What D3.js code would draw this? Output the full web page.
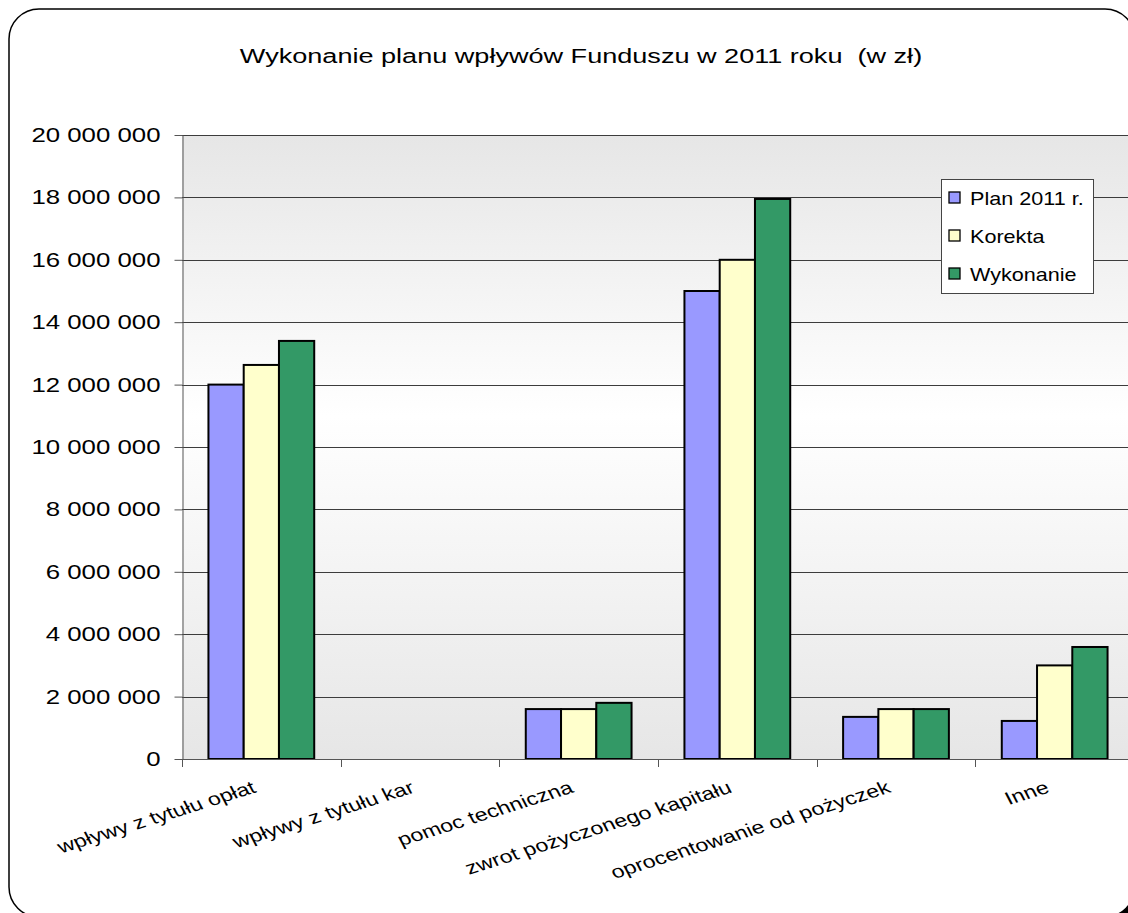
<!DOCTYPE html>
<html>
<head>
<meta charset="utf-8">
<script src="https://cdn.jsdelivr.net/npm/d3@7"></script>
<style>
  body { margin: 0; background: #fff; }
  svg { display: block; font-family: "Liberation Sans", Arial, sans-serif; }
</style>
</head>
<body>
<div id="chart"></div>
<script>
// data
const categories = ["wpływy z tytułu opłat", "wpływy z tytułu kar", "pomoc techniczna",
    "zwrot pożyczonego kapitału", "oprocentowanie od pożyczek", "Inne"];
const seriesNames = ["Plan 2011 r.", "Korekta", "Wykonanie"];
const plan = [12000000, 0, 1600000, 15000000, 1350000, 1220000];
const korekta = [12630000, 0, 1600000, 16000000, 1600000, 3000000];
const wykonanie = [13400000, 0, 1800000, 17950000, 1600000, 3590000];
const yTicks = [0, 2000000, 4000000, 6000000, 8000000, 10000000, 12000000, 14000000, 16000000, 18000000, 20000000];
const colors = ["#9999ff", "#ffffcc", "#339966"];

const W = 1128, H = 913;
const margin = {left: 182, top: 135, right: -6, bottom: 154};
const sx = 1.29; // the original picture is stretched sideways, text too

const svg = d3.select("#chart").append("svg")
    .attr("width", W)
    .attr("height", H);

const defs = svg.append("defs");
const grad = defs.append("linearGradient")
    .attr("id", "bg").attr("x1", 0).attr("y1", 0).attr("x2", 0).attr("y2", 1);
grad.append("stop").attr("offset", "0%").attr("stop-color", "#e6e6e6");
grad.append("stop").attr("offset", "45%").attr("stop-color", "#ffffff");
grad.append("stop").attr("offset", "100%").attr("stop-color", "#e6e6e6");

// frame with shadow
svg.append("rect")
    .attr("x", 17).attr("y", 17).attr("width", 1126).attr("height", 908)
    .attr("rx", 30).attr("fill", "#000");
svg.append("rect")
    .attr("x", 9).attr("y", 9).attr("width", 1126).attr("height", 908)
    .attr("rx", 30).attr("fill", "#fff").attr("stroke", "#000").attr("stroke-width", 1.5);

const x0 = margin.left, x1 = W - margin.right;
const yTop = margin.top, yBot = H - margin.bottom;

const x = d3.scaleBand().domain(categories).range([x0, x1]).paddingInner(0).paddingOuter(0);
const y = d3.scaleLinear().domain([0, 20000000]).range([yBot, yTop]);

// plot background
svg.append("rect")
    .attr("x", x0).attr("y", yTop).attr("width", x1 - x0).attr("height", yBot - yTop)
    .attr("fill", "url(#bg)");

// gridlines
svg.append("g").selectAll("line")
    .data(yTicks.filter(d => d > 0))
    .enter().append("line")
    .attr("x1", x0).attr("x2", x1)
    .attr("y1", d => Math.round(y(d)) + 0.5).attr("y2", d => Math.round(y(d)) + 0.5)
    .attr("stroke", "#3c3c3c").attr("stroke-width", 1);

// y axis
const fmt = d => d3.format(",")(d).replace(/,/g, "\u00a0");
const yAxis = svg.append("g")
    .attr("transform", `translate(${x0 + 0.5},0)`)
    .call(d3.axisLeft(y).tickValues(yTicks).tickFormat(fmt).tickSize(8).tickSizeOuter(0));
yAxis.select(".domain").attr("stroke", "#555");
yAxis.selectAll(".tick line").attr("stroke", "#555");
yAxis.selectAll("text")
    .attr("x", 0)
    .attr("transform", `translate(-22,0) scale(${sx},1)`)
    .attr("font-size", 20).attr("fill", "#000")
    .attr("font-family", "Liberation Sans, Arial, sans-serif");

// bars
const xs = d3.scaleBand().domain(seriesNames).range([0, x.bandwidth()]).paddingOuter(0.75).paddingInner(0);
const series = [plan, korekta, wykonanie];
series.forEach((vals, si) => {
    svg.append("g").selectAll("rect")
        .data(vals.map((v, i) => ({cat: categories[i], v})).filter(d => d.v > 0))
        .enter().append("rect")
        .attr("x", d => x(d.cat) + xs(seriesNames[si]))
        .attr("y", d => y(d.v))
        .attr("width", xs.bandwidth())
        .attr("height", d => y(0) - y(d.v))
        .attr("fill", colors[si])
        .attr("stroke", "#000")
        .attr("stroke-width", 2);
});

// x axis
const xg = svg.append("g");
xg.append("line")
    .attr("x1", x0).attr("x2", x1).attr("y1", yBot + 0.5).attr("y2", yBot + 0.5)
    .attr("stroke", "#555");
xg.selectAll(".tk")
    .data(categories.map(c => x(c)).concat([x1]))
    .enter().append("line")
    .attr("x1", d => Math.round(d) + 0.5).attr("x2", d => Math.round(d) + 0.5)
    .attr("y1", yBot).attr("y2", yBot + 8)
    .attr("stroke", "#555");

xg.selectAll("text")
    .data(categories)
    .enter().append("text")
    .attr("transform", d => `translate(${x(d) + x.bandwidth() / 2 - 4},${yBot + 33}) scale(${sx},1) rotate(-22)`)
    .attr("text-anchor", "end")
    .attr("font-size", 18)
    .attr("fill", "#000")
    .text(d => d);

// title
svg.append("text")
    .attr("transform", `translate(581,63) scale(${sx},1)`)
    .attr("text-anchor", "middle")
    .attr("font-size", 21)
    .attr("fill", "#000")
    .attr("xml:space", "preserve")
    .style("white-space", "pre")
    .text("Wykonanie planu wpływów Funduszu w 2011 roku  (w zł)");

// legend
const lg = svg.append("g").attr("transform", "translate(941,179)");
lg.append("rect")
    .attr("x", 0.5).attr("y", 0.5).attr("width", 152).attr("height", 114)
    .attr("fill", "#fff").attr("stroke", "#444");
seriesNames.forEach((s, i) => {
    const row = lg.append("g").attr("transform", `translate(0,${19 + i * 38})`);
    row.append("rect")
        .attr("x", 8).attr("y", -6).attr("width", 11).attr("height", 11)
        .attr("fill", colors[i]).attr("stroke", "#000").attr("stroke-width", 1.3);
    row.append("text")
        .attr("transform", `translate(29,7) scale(1.2,1)`)
        .attr("font-size", 18)
        .attr("fill", "#000")
        .text(s);
});
</script>
</body>
</html>
